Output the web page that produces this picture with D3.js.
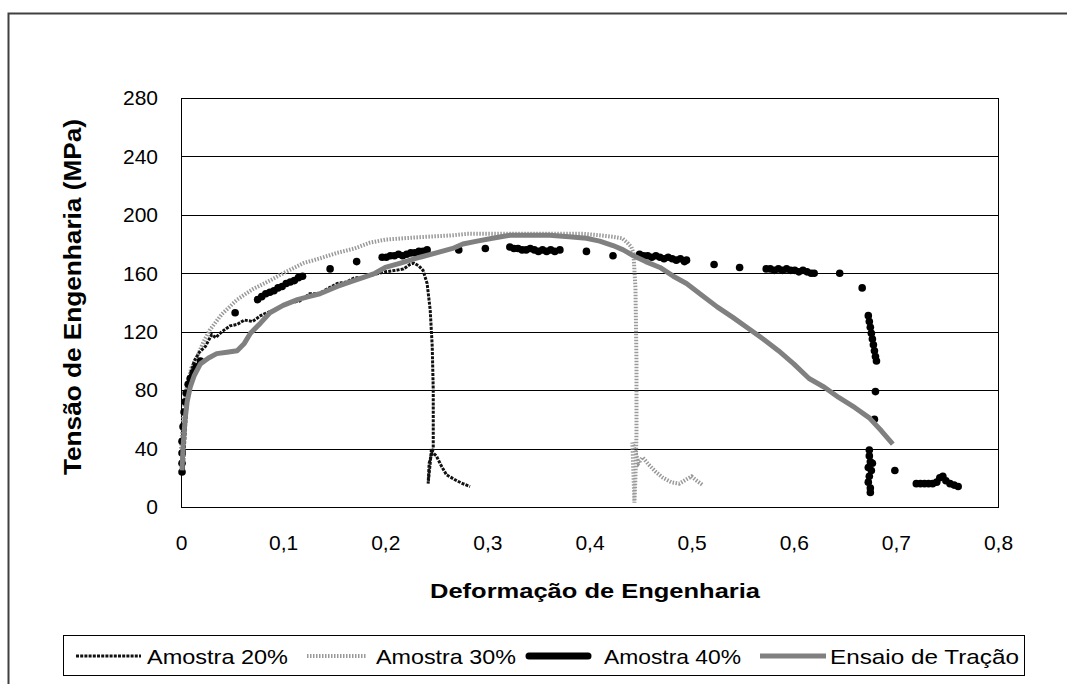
<!DOCTYPE html>
<html><head><meta charset="utf-8">
<script src="https://cdn.jsdelivr.net/npm/d3@7"></script>
<style>body{margin:0;background:#fff}svg{display:block}text{font-family:"Liberation Sans",Arial,sans-serif}</style>
</head><body><svg id="c" width="1067" height="684"></svg>
<script>
// ---- data ----
const yTicks = [0,40,80,120,160,200,240,280];
const xTicks = [0,0.1,0.2,0.3,0.4,0.5,0.6,0.7,0.8];
const xTickLabels = ["0","0,1","0,2","0,3","0,4","0,5","0,6","0,7","0,8"];
const seriesNames = ["Amostra 20%","Amostra 30%","Amostra 40%","Ensaio de Tração"];

const strain20 = [0.002,0.004,0.006,0.009,0.013,0.018,0.024,0.03,0.034,0.04,0.048,0.055,0.062,0.07,0.078,0.084,0.092,0.1,0.108,0.116,0.126,0.135,0.145,0.153,0.162,0.17,0.178,0.188,0.2,0.21,0.218,0.224,0.228,0.233,0.237,0.241,0.244,0.246,0.247,0.247,0.243,0.242,0.244,0.245,0.25,0.255,0.26,0.27,0.276,0.283];
const stress20 = [23,50,72,90,100,106,110,118,116,120,124,125,128,127,131,133,135,138,140,141,146,146,150,153,154,157,157,159,161,162,163,166,167,165,162,153,135,110,80,40,30,16,30,38,35,28,22,18,16,14];

const strain30 = [0,0.002,0.005,0.01,0.016,0.022,0.028,0.04,0.055,0.07,0.087,0.1,0.12,0.135,0.153,0.17,0.185,0.2,0.218,0.24,0.266,0.28,0.3,0.32,0.345,0.37,0.394,0.41,0.423,0.432,0.437,0.441,0.443,0.445,0.446,0.446,0.445,0.444,0.442,0.445,0.448,0.452,0.458,0.465,0.472,0.48,0.488,0.495,0.5,0.505,0.511];
const stress30 = [40,60,80,95,103,113,121,132,142,149,155,160,167,170,174,177,181,183,184,185,186,187,187,187,187,187,187,186,185,184,181,178,174,150,100,50,20,3,44,38,30,34,29,24,20,17,16,19,21,18,15];

const strain40 = [0.001,0.001,0.001,0.001,0.002,0.003,0.004,0.005,0.007,0.009,0.012,0.015,0.019,
  0.053,
  0.075,0.079,0.083,0.087,0.091,0.095,0.099,0.103,0.107,0.111,0.115,0.119,
  0.146,0.172,
  0.197,0.201,0.205,0.209,0.213,0.217,0.221,0.225,0.229,0.233,0.237,0.241,
  0.272,0.298,
  0.322,0.326,0.330,0.334,0.338,0.342,0.346,0.350,0.354,0.358,0.362,0.366,0.371,
  0.397,0.423,
  0.449,0.453,0.457,0.461,0.465,0.469,0.473,0.477,0.481,0.485,0.489,0.493,0.495,
  0.522,0.547,
  0.573,0.577,0.581,0.585,0.589,0.593,0.597,0.601,0.605,0.609,0.613,0.617,0.620,
  0.645,0.667,
  0.673,0.674,0.675,0.676,0.677,0.678,0.679,0.680,0.681,
  0.680,0.679,
  0.674,0.674,0.675,0.673,0.676,0.674,0.673,0.675,0.675,0.677,
  0.699,
  0.720,0.724,0.728,0.732,0.736,0.740,0.743,0.746,0.749,0.753,0.757,0.761];
const stress40 = [24,30,37,45,55,65,72,78,84,88,92,96,100,
  133,
  142,144,146,147,148,150,151,153,154,155,157,158,
  163,168,
  171,171,172,172,173,172,173,174,174,175,175,176,
  176,177,
  178,177,177,176,176,177,176,175,176,175,176,175,176,
  175,172,
  173,172,172,171,172,171,170,171,170,169,170,168,169,
  166,164,
  163,163,162,163,162,163,162,162,161,162,161,160,160,
  160,150,
  131,127,123,119,115,111,107,103,100,
  79,60,
  39,35,31,27,25,21,17,13,10,30,
  25,
  16,16,16,16,16,17,20,21,18,16,15,14];

const strainT = [0.001,0.002,0.004,0.006,0.009,0.013,0.019,0.027,0.035,0.045,0.055,0.062,0.068,0.078,0.087,0.1,0.114,0.125,0.136,0.153,0.165,0.178,0.19,0.2,0.215,0.234,0.25,0.266,0.276,0.29,0.305,0.322,0.34,0.361,0.38,0.397,0.41,0.423,0.433,0.443,0.455,0.469,0.482,0.495,0.51,0.525,0.54,0.556,0.57,0.585,0.6,0.615,0.63,0.644,0.66,0.674,0.686,0.697];
const stressT = [25,41,60,72,82,90,98,102,105,106,107,112,119,126,133,138,142,144,146,151,154,157,160,164,167,171,174,177,180,182,184,186,186,186,185,184,182,179,176,172,168,164,158,153,145,137,130,122,115,107,98,88,82,75,68,61,52,43];

// ---- layout ----
const svg = d3.select("#c");
const L = 181, R = 998, T = 98, B = 507;
const x = d3.scaleLinear().domain([0,0.8]).range([L,R]);
const y = d3.scaleLinear().domain([0,280]).range([B,T]);

// outer frame
svg.append("rect").attr("x",8.5).attr("y",13.5).attr("width",1100).attr("height",700)
  .attr("fill","none").attr("stroke","#404040").attr("stroke-width",2);

// gridlines
svg.append("g").selectAll("line").data(yTicks.filter(d=>d>0&&d<280)).join("line")
  .attr("x1",L).attr("x2",R).attr("y1",d=>Math.round(y(d))+0.5).attr("y2",d=>Math.round(y(d))+0.5)
  .attr("stroke","#000").attr("stroke-width",1);
// plot box
svg.append("rect").attr("x",L+0.5).attr("y",T+0.5).attr("width",R-L).attr("height",B-T)
  .attr("fill","none").attr("stroke","#000").attr("stroke-width",1);

// axes (labels only)
const yAxis = d3.axisLeft(y).tickValues(yTicks).tickSize(0).tickPadding(23).tickFormat(d3.format("d"));
const gy = svg.append("g").attr("transform",`translate(${L},0)`).call(yAxis);
gy.select(".domain").remove();
gy.selectAll("text").attr("font-size",21).attr("fill","#000").attr("font-family","Liberation Sans, Arial, sans-serif");

const xAxis = d3.axisBottom(x).tickValues(xTicks).tickSize(0).tickPadding(28).tickFormat((d,i)=>xTickLabels[i]);
const gx = svg.append("g").attr("transform",`translate(0,${B})`).call(xAxis);
gx.select(".domain").remove();
gx.selectAll("text").attr("font-size",21).attr("fill","#000").attr("font-family","Liberation Sans, Arial, sans-serif");

// axis titles
svg.append("text").attr("x",595).attr("y",598).attr("text-anchor","middle")
  .attr("font-size",21).attr("font-weight","bold").attr("textLength",330).attr("lengthAdjust","spacingAndGlyphs")
  .text("Deformação de Engenharia");
svg.append("text").attr("transform","translate(81,297) rotate(-90)").attr("text-anchor","middle")
  .attr("font-size",23).attr("font-weight","bold").attr("textLength",356).attr("lengthAdjust","spacingAndGlyphs")
  .text("Tensão de Engenharia (MPa)");

// series
const line = d3.line().x(d=>x(d[0])).y(d=>y(d[1]));
const plot = svg.append("g");
const d20 = strain20.map((s,i)=>[s,stress20[i]]);
const d30 = strain30.map((s,i)=>[s,stress30[i]]);
const d40 = strain40.map((s,i)=>[s,stress40[i]]);
const dT = strainT.map((s,i)=>[s,stressT[i]]);

const style30 = {stroke:"#9a9a9a", w:4, dash:"1.5 1.5"};
const style20 = {stroke:"#111", w:3, dash:"3 1.2"};
const styleT = {stroke:"#808080", w:5};

plot.append("path").datum(d30).attr("d",line).attr("fill","none")
  .attr("stroke",style30.stroke).attr("stroke-width",style30.w).attr("stroke-dasharray",style30.dash);
plot.append("path").datum(d20).attr("d",line).attr("fill","none")
  .attr("stroke",style20.stroke).attr("stroke-width",style20.w).attr("stroke-dasharray",style20.dash);
plot.append("g").selectAll("circle").data(d40).join("circle")
  .attr("cx",d=>x(d[0])).attr("cy",d=>y(d[1])).attr("r",3.8).attr("fill","#000");
plot.append("path").datum(dT).attr("d",line).attr("fill","none")
  .attr("stroke",styleT.stroke).attr("stroke-width",styleT.w).attr("stroke-linejoin","round");

// legend
svg.append("rect").attr("x",63.5).attr("y",635.5).attr("width",961).attr("height",40)
  .attr("fill","#fff").attr("stroke","#000").attr("stroke-width",1);
const ly = 656;
const leg = [
  {x1:76,x2:141,tx:147,tw:141,st:style20},
  {x1:307,x2:366,tx:376,tw:140,st:style30},
  {x1:529,x2:588,tx:604,tw:137,st:{stroke:"#000",w:7}},
  {x1:760,x2:826,tx:830,tw:189,st:styleT}
];
leg.forEach((l,i)=>{
  svg.append("line").attr("x1",l.x1).attr("x2",l.x2).attr("y1",ly).attr("y2",ly)
    .attr("stroke",l.st.stroke).attr("stroke-width",l.st.w).attr("stroke-dasharray",l.st.dash||null)
    .attr("stroke-linecap", i===2?"round":"butt");
  svg.append("text").attr("x",l.tx).attr("y",ly+8).attr("font-size",21)
    .attr("textLength",l.tw).attr("lengthAdjust","spacingAndGlyphs").text(seriesNames[i]);
});
</script></body></html>
